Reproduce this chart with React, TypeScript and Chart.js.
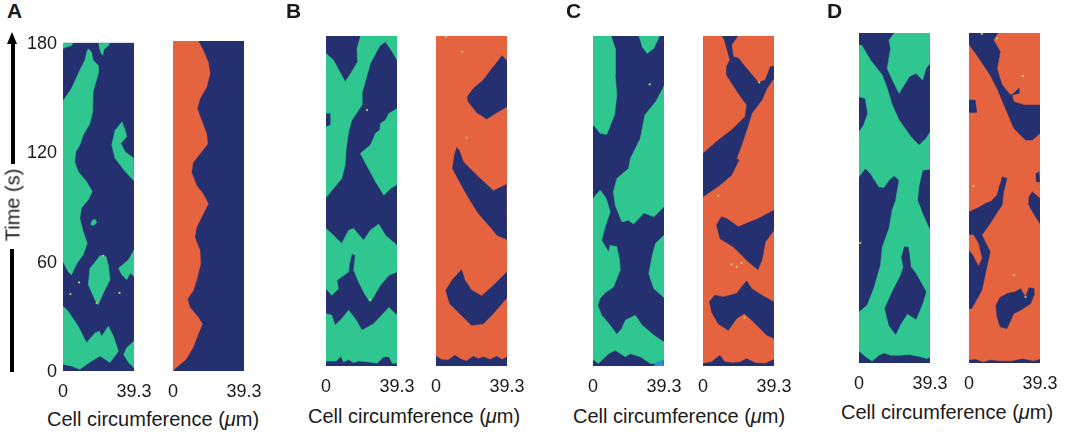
import { useEffect, useRef } from 'react';
import { Chart, registerables } from 'chart.js';

Chart.register(...registerables);

type Pt = [number, number];

const NAVY = '#24306f';
const GREEN = '#2fc78f';
const ORANGE = '#e5633f';
const CYAN = '#2a93c8';
const FONT = '"Liberation Sans", Arial, sans-serif';

const circumference = 39.3;
const duration = 180;
const timeTicks = [0, 60, 120, 180];
const base: Pt[] = [[0, 0], [39.3, 0], [39.3, 180], [0, 180]];

// panel A, pair on the left: green over navy
const aG1: Pt[] = [[0,180],[5.6,180],[4.7,178.5],[1.5,177.6],[0,176.7]];
const aG2: Pt[] = [[19.6,180],[26.1,180],[25.1,178.5],[22.7,176.4],[22,173.1],[21,174.5],[20.1,177.3]];
const aG3: Pt[] = [[14,176.7],[15.8,174.9],[16.7,170.4],[19.5,167.6],[19.5,163.1],[16.7,153.1],[16.4,142.1],[14.9,135.8],[11.2,129.4],[9.3,123.9],[7.1,120.3],[6.5,114.8],[8.4,109.4],[13,103.9],[16.2,98.5],[14,93.9],[10.2,89.4],[9.3,83.7],[11.2,76.4],[13.4,70.1],[11.2,63.7],[7.8,59.2],[4.7,52.8],[2.8,54.6],[0,60.1],[0,148.5],[0.9,149.4],[4.7,154.9],[9.3,164.9],[12.1,170.4],[13.4,175.8]];
const aG4: Pt[] = [[32.6,136.7],[34.4,132.1],[35.3,128.5],[32,124.9],[34.4,120.3],[39.1,116.7],[39.3,104.3],[34.4,109.4],[28.8,116.7],[27,123.9],[28.8,132.1]];
const aG5: Pt[] = [[20.5,63.3],[23.8,62.8],[25.1,58.2],[26,50],[22.3,42.8],[19.5,36.4],[17.7,39.1],[14,47.3],[14.9,56.4]];
const aG6: Pt[] = [[39.3,66.4],[36.3,61],[30.7,56.4],[32.6,52.8],[35.3,50],[37.2,53.7],[39.3,51.9]];
const aG7: Pt[] = [[0,35.5],[2.8,32.8],[8.4,24.6],[13,15.5],[17.7,20.9],[20.1,21.8],[21.4,19.1],[25.1,24.6],[27.9,19.1],[30.7,10.9],[26,4.6],[20.5,8.2],[15.8,5.5],[9.3,0.9],[4.7,2.7],[0,3.6]];
const aG8: Pt[] = [[39.3,16.4],[35.3,12.7],[33.5,9.1],[36.3,4.6],[39.3,1.8]];
const aG9: Pt[] = [[16.2,82.8],[17.9,83],[18.6,81.6],[17.6,80.2],[16,80],[15.6,81.4]];
const aSpecks: Pt[] = [[8.9,48.6],[4.1,42.2],[31.3,42.8],[18.6,37.3],[22.3,63.2]];

// panel A, pair on the right: orange over navy
const aO1: Pt[] = [[0,180],[14,180],[16.7,174.9],[19.5,168.5],[20.5,162.2],[18.6,154.9],[14.9,148.5],[13.4,143.1],[15.8,136.7],[18.6,129.4],[19.2,123.9],[14.9,118.5],[11.2,113.9],[10.2,108.5],[13,101.2],[16.7,96.6],[19.5,91.2],[16.7,85.7],[13,78.4],[12.1,73],[14.9,65.7],[15.3,58.4],[13,49.3],[11.2,43.9],[8,39.3],[9.3,34.8],[14,29.3],[16.2,25.7],[14,20.2],[11.2,13.1],[7.4,6.6],[0.9,1.1],[0,0]];

// panel B
const bG1: Pt[] = [[19,180],[39.3,180],[39.3,166.9],[36.7,171.4],[32.9,176.9],[29.8,174.7],[24.6,165.1],[19.9,148.7],[19.9,142.3],[14.3,134.1],[12.5,127.8],[11.2,118.7],[10.6,109.6],[8.7,102.3],[0.4,92.3],[0,92.3],[0,130.5],[2.6,131.4],[2.6,137.8],[0,137.8],[0,170.5],[4.1,166.9],[10.6,155.1],[14.3,160.5],[17.5,166],[17.1,173.3]];
const bG2: Pt[] = [[39.3,140.5],[39.3,99],[35.7,96.8],[32,93.2],[27.4,100.5],[19,115.9],[24.6,120.5],[27.4,126.9],[29.8,128.7],[30.1,132.3],[32.9,134.1],[34.8,137.8]];
const bG3: Pt[] = [[0,75],[4.1,71.3],[8.7,66.8],[12.5,74.1],[15.3,75],[20.8,68.6],[24.6,74.1],[29.2,77.4],[32.9,71.3],[39.3,65.9],[39.3,51.3],[34.8,49.5],[30.1,44],[24.6,34.9],[21.8,38.6],[18,45.9],[15.3,52.2],[16.2,60.4],[14.3,61.3],[13,55.9],[12.5,51.3],[6,46.8],[6.9,42.2],[3.2,38.6],[0,42.2]];
const bG4: Pt[] = [[0,28.6],[3.2,27.7],[5,22.2],[8.7,25.8],[12.5,30.4],[16.2,25.8],[19.9,19.5],[26.4,23.1],[34.8,31.9],[39.3,27.7],[39.3,1.5],[36.7,1.5],[34.8,5.1],[32,5.1],[28.3,1.5],[23.6,2.2],[18,2.7],[15.3,1.8],[12.5,3.5],[9.7,2.2],[8.4,5.3],[5.6,2.7],[0,2.7]];
const bGSpecks: Pt[] = [[22.7,139.6],[24.2,36.2]];
const bN1: Pt[] = [[36.5,169.3],[39.3,166.4],[39.3,141.4],[33.7,138.3],[28.1,134.7],[22.5,138.3],[17.9,144.1],[17.3,146.9],[20.7,151.4],[26.2,156],[31.8,163.3]];
const bN2: Pt[] = [[11.3,119.2],[12.8,117.8],[15.1,111.4],[22.5,104.1],[31.8,95.6],[38.9,99],[39.3,69],[33.7,71.3],[30,75.9],[23.4,83.2],[18.8,90.5],[15.1,96.8],[9.1,107.7],[10.4,115.9]];
const bN3: Pt[] = [[14.1,52.6],[16,46.8],[19.7,41.3],[25.3,38.2],[31.8,44],[39.3,51.3],[39.3,37.3],[31.8,28.6],[26.2,23.1],[19.7,22.2],[14.1,27.7],[7.6,34],[5.4,41.3],[9.5,47.7]];
const bN4: Pt[] = [[0,5.3],[3,3.5],[6.7,3.1],[10.4,5.8],[14.1,3.5],[16.9,2.7],[20.7,5.3],[23.4,4],[26.2,4.9],[30,3.5],[33.7,5.3],[36.5,3.5],[39.3,4.9],[39.3,0],[0,0]];
const bOSpecks: Pt[] = [[14.5,171.4],[16.9,124.5],[5.6,179.5]];

// panel C
const cG1: Pt[] = [[0,180],[10,180],[12.3,173.3],[12.3,158.7],[13.2,147.8],[11.9,136.9],[7.6,126.3],[3.9,126.9],[1.1,130.5],[0,131.4]];
const cG2: Pt[] = [[25.3,180],[36.8,180],[33.7,173.3],[30,170.5],[27.2,174.2]];
const cG3: Pt[] = [[39.3,152.9],[39.3,86.8],[33.7,81.4],[28.1,83.5],[22.5,77.4],[19.7,79.5],[16,78.6],[12.3,87.7],[11.3,95],[13.2,102.3],[19.7,107.7],[20.7,113.2],[26.2,124.1],[28.7,136.9],[34.6,144.1]];
const cG4: Pt[] = [[0,91.4],[3.9,95.9],[6.7,92.3],[7.6,90.5],[9.5,84.1],[6.7,75.9],[4.8,68.6],[8.6,62.2],[9.5,65.9],[13.2,65],[14.7,57.7],[15.1,52.2],[11.3,43.1],[6.7,39.9],[3.9,36.8],[2.6,33.1],[4.8,27.7],[9.5,22.2],[13.2,17.3],[16,20.4],[17.9,25],[23.4,27.7],[27.2,22.2],[33.7,16.8],[39.3,13.1],[39.3,3.1],[34.6,1.3],[31.8,1.3],[26.2,5],[20.7,6.7],[17.9,5],[12.3,8.6],[8.6,6.7],[4.8,3.1],[3,1.3],[0,3.5]];
const cG5: Pt[] = [[39.3,71.3],[34.6,66.8],[32.8,60.4],[30.9,50.3],[33.7,42.2],[39.3,37.3]];
const cBlue: Pt[] = [[33.7,0],[35.4,2.2],[38.7,3.3],[39.3,0]];
const cGSpecks: Pt[] = [[31.4,153.6]];
const cN1: Pt[] = [[10.6,180],[19.2,180],[15.8,175.1],[16.8,168.7],[19.6,167.8],[23.3,163.3],[30.7,154.7],[34.5,156],[37.3,163.3],[39.3,163.3],[39.3,156.9],[35.4,151.4],[32.6,145.1],[27,137.8],[25.1,131.4],[21.4,120.5],[18.6,113.2],[19.9,112.3],[15.8,104.1],[9.3,98.6],[0,92.3],[0,115.9],[8.4,123.2],[15.8,128.7],[23.3,136],[24.2,142.3],[19.6,148.7],[13,158.7],[13,163.3],[14.9,166.9],[12.1,176.9]];
const cN2: Pt[] = [[7.4,76.8],[10.2,81.4],[13,80.5],[19.6,75.9],[30.7,80.5],[39.3,85],[39.3,74.1],[34.5,67.7],[32.6,57.7],[30.4,52.6],[25.1,56.8],[16.8,65],[9.3,69.5]];
const cN3: Pt[] = [[3.4,34.9],[6.5,38.6],[11.2,37.7],[18.6,39.5],[21.4,43.1],[24.2,46.4],[27,42.2],[32.6,38.6],[39.3,34.9],[39.3,15],[35.4,16.8],[27,25],[22.9,28.6],[18.6,25.9],[14,19.5],[8.4,23.1],[4.7,29.5]];
const cN4: Pt[] = [[0,0],[0,1.3],[4.7,2.2],[9.3,5.8],[12.1,2.2],[16.8,1.7],[20.5,2.2],[24.2,4],[28.9,1.7],[34.5,1.3],[39.3,3.5],[39.3,0]];
const cOSpecks: Pt[] = [[31.1,154.7],[8.4,92.8],[15.8,55.3],[18.6,54.1],[21.4,56.2],[22.9,26.4]];

// panel D
const dG1: Pt[] = [[19.4,180],[39.3,180],[39.3,163.4],[37.1,160.7],[35.2,154.3],[31.5,158],[27.8,156.2],[22.2,147.1],[19.4,152.5],[15.6,160.7],[17.5,171.6],[16.6,176.2]];
const dG2: Pt[] = [[0,173.4],[1.7,173.1],[6.3,165.3],[12.9,157.1],[15.6,149.8],[18.4,140.7],[22.2,132.5],[28.7,123.4],[33.3,118.8],[37.1,122.5],[39.3,125.8],[39.3,105.7],[38.4,105.6],[35.2,105.2],[33.3,97],[32.4,88.8],[35.2,81.5],[38.9,73.3],[39.3,72.4],[39.3,3.3],[37.6,2.4],[33.3,3.6],[27.8,4.7],[23.1,4.2],[17.5,4.2],[13.8,5.5],[11,4.2],[7.3,1.1],[3.5,3.6],[0,6.6],[0,27.8],[4.5,31.5],[8.2,40.6],[11.9,53.3],[12.9,63.3],[16.6,73.3],[18.4,83.4],[20.3,88.8],[22.2,99.7],[19.4,102.2],[16.6,99.7],[13.8,95.7],[11,96.1],[6.3,103.4],[3.5,106.1],[0,101.6],[0,126.1],[2.6,129.8],[4.8,136.1],[3.5,144.3],[0,145.2]];
const dNavyIsland: Pt[] = [[25,63.3],[27.2,63.3],[27.8,59.7],[28.7,52.4],[31.5,48.8],[37.1,38.8],[35.2,32.4],[31.5,23.8],[26.8,26.9],[23.1,21.4],[20.3,15.6],[16.6,20.5],[14.3,29.7],[18.4,38.8],[23.1,47.9],[24.6,52.4],[23.5,57.9]];
const dGSpecks: Pt[] = [[0.7,65.5]];
const dN1: Pt[] = [[0,180],[15.8,180],[13.6,176.2],[17.3,169.8],[15.5,160.7],[18.3,151.6],[22.9,146.2],[24.8,147.1],[27.6,149.8],[27.6,147.1],[23.8,146.2],[24.8,142.5],[30.4,140.7],[39.3,140.7],[39.3,125.2],[35,121.6],[31.3,121.6],[24.8,128],[21,137],[15.5,149.8],[11.7,157.1],[4.3,168],[0,173.8]];
const dN2: Pt[] = [[0,143.4],[3.4,143.4],[4.3,136.7],[0,136.7]];
const dN3: Pt[] = [[18.3,101.6],[21,100.6],[19.2,93.4],[18.3,86.1],[16.4,83.4],[11.7,76.1],[7.1,69.8],[11.7,60.7],[9.9,52.5],[7.1,39.7],[1.5,29.7],[0,29.7],[0,82.5],[4.3,84.3],[9.9,87.4],[12.1,88.1],[15.5,91.5],[17.3,97.9]];
const dOrangeIsland: Pt[] = [[0,69.8],[2.4,69.8],[5.2,65.2],[7.1,57],[5.2,53.3],[2.4,58.8],[0,61.5]];
const dN4: Pt[] = [[38.9,104.3],[37.1,103.4],[37.4,98.8],[39.3,98.8]];
const dN5: Pt[] = [[35,93.4],[39.3,89.7],[39.3,76.1],[36.9,79.7],[34.1,84.3],[32.8,87],[33.2,90.8]];
const dN6: Pt[] = [[21,37.9],[25.7,38.8],[28.5,40.6],[31.3,36],[33.2,41.1],[35.9,40.6],[35.9,36.9],[34.1,32.4],[28.5,28.8],[24.8,27],[21,18.8],[17.3,19.7],[15.5,25.1],[14.9,31.5],[17.3,36]];
const dN7: Pt[] = [[0,1.5],[3.4,1.9],[8,0.4],[11.7,1.5],[17.3,1],[23.8,1],[29.4,2.2],[35.9,1],[39.3,1.9],[39.3,0],[0,0]];
const dOSpecks: Pt[] = [[29.8,156.5],[2.4,96.5],[24.8,47.9],[31.3,36],[7.1,179.5],[15.5,177]];

type Region = { pts: Pt[]; color: string };
type Panel = { x: number; y: number; timeAxis?: boolean; back: string; regions: Region[]; specks: Pt[] };

const paint = (color: string, list: Pt[][]): Region[] => list.map((pts) => ({ pts, color }));

const panels: Panel[] = [
  { x: 63, y: 41, timeAxis: true, back: NAVY, regions: paint(GREEN, [aG1, aG2, aG3, aG4, aG5, aG6, aG7, aG8, aG9]), specks: aSpecks },
  { x: 173, y: 41, back: NAVY, regions: paint(ORANGE, [aO1]), specks: [] },
  { x: 326, y: 36, back: NAVY, regions: paint(GREEN, [bG1, bG2, bG3, bG4]), specks: bGSpecks },
  { x: 436, y: 36, back: ORANGE, regions: paint(NAVY, [bN1, bN2, bN3, bN4]), specks: bOSpecks },
  { x: 593, y: 36, back: NAVY, regions: [...paint(GREEN, [cG1, cG2, cG3, cG4, cG5]), { pts: cBlue, color: CYAN }], specks: cGSpecks },
  { x: 703, y: 36, back: ORANGE, regions: paint(NAVY, [cN1, cN2, cN3, cN4]), specks: cOSpecks },
  { x: 859, y: 33, back: NAVY, regions: [...paint(GREEN, [dG1, dG2]), { pts: dNavyIsland, color: NAVY }], specks: dGSpecks },
  { x: 969, y: 33, back: ORANGE, regions: [...paint(NAVY, [dN1, dN2, dN3, dN4, dN5, dN6, dN7]), { pts: dOrangeIsland, color: ORANGE }], specks: dOSpecks },
];

const letters = [
  { t: 'A', x: 7, y: -1 },
  { t: 'B', x: 286, y: -1 },
  { t: 'C', x: 566, y: -1 },
  { t: 'D', x: 827, y: -1 },
];

const xTitles = [
  { x: 47, y: 408 },
  { x: 308, y: 405 },
  { x: 573, y: 405 },
  { x: 841, y: 401 },
];

const PAD = 45;
const W = 71;
const H = 330;

function PanelChart({ panel }: { panel: Panel }) {
  const ref = useRef<HTMLCanvasElement>(null);

  useEffect(() => {
    if (!ref.current) return;
    const shapes = [{ pts: base, color: panel.back }, ...panel.regions];
    const polygons = shapes.map((r) => ({
      data: r.pts.map(([x, y]) => ({ x, y })),
      showLine: true,
      fill: 'shape' as const,
      backgroundColor: r.color,
      borderColor: r.color,
      borderWidth: 0.5,
      pointRadius: 0,
      tension: 0,
    }));
    const chart = new Chart(ref.current, {
      type: 'scatter',
      data: {
        // first dataset is painted last
        datasets: [
          {
            data: panel.specks.map(([x, y]) => ({ x, y })),
            backgroundColor: '#b9d56a',
            borderWidth: 0,
            pointRadius: 1.1,
          },
          ...polygons.reverse(),
        ] as any,
      },
      options: {
        animation: false,
        responsive: false,
        layout: { autoPadding: false, padding: { top: 15, right: PAD, left: 0, bottom: 0 } },
        plugins: { legend: { display: false }, tooltip: { enabled: false } },
        scales: {
          x: {
            type: 'linear',
            min: 0,
            max: circumference,
            grid: { display: false, drawTicks: false },
            border: { display: false },
            afterBuildTicks: (s: any) => { s.ticks = [{ value: 0 }, { value: circumference }]; },
            afterFit: (s: any) => { s.height = 35; },
            ticks: {
              maxRotation: 0,
              padding: 10,
              color: '#1a1a1a',
              font: { family: FONT, size: 18 },
              callback: (v: any) => String(v),
            },
          },
          y: {
            type: 'linear',
            min: 0,
            max: duration,
            grid: { display: false, drawTicks: false },
            border: { display: false },
            afterBuildTicks: (s: any) => { s.ticks = timeTicks.map((value) => ({ value })); },
            afterFit: (s: any) => { s.width = PAD; },
            ticks: {
              display: !!panel.timeAxis,
              padding: 6,
              labelOffset: 1,
              color: '#1a1a1a',
              font: { family: FONT, size: 18 },
              callback: (v: any) => String(v),
            },
          },
        },
      },
    });
    return () => chart.destroy();
  }, [panel]);

  return (
    <canvas
      ref={ref}
      width={W + 2 * PAD}
      height={H + 15 + 35}
      style={{ position: 'absolute', left: panel.x - PAD, top: panel.y - 15, width: W + 2 * PAD, height: H + 50 }}
    />
  );
}

export default function App() {
  return (
    <div style={{ position: 'fixed', left: 0, top: 0, width: 1065, height: 437, overflow: 'hidden', background: '#fff', fontFamily: FONT, color: '#1a1a1a' }}>
      {panels.map((p, i) => <PanelChart key={i} panel={p} />)}

      {letters.map((l) => (
        <div key={l.t} style={{ position: 'absolute', left: l.x, top: l.y, fontSize: 21, fontWeight: 700 }}>{l.t}</div>
      ))}
      {xTitles.map((t, i) => (
        <div key={i} style={{ position: 'absolute', left: t.x, top: t.y, fontSize: 20, whiteSpace: 'nowrap' }}>
          Cell circumference (<i>μ</i>m)
        </div>
      ))}

      {/* time arrow with the axis name set into it */}
      <div style={{ position: 'absolute', left: 11, top: 44, width: 3.5, height: 120, background: '#000' }} />
      <div style={{ position: 'absolute', left: 7, top: 32, width: 0, height: 0, borderLeft: '5.5px solid transparent', borderRight: '5.5px solid transparent', borderBottom: '12px solid #000' }} />
      <div style={{ position: 'absolute', left: 10, top: 249, width: 3.5, height: 123, background: '#000' }} />
      <div style={{ position: 'absolute', left: 12.5, top: 205, fontSize: 20, whiteSpace: 'nowrap', transform: 'translate(-50%, -50%) rotate(-90deg)' }}>Time (s)</div>
    </div>
  );
}
